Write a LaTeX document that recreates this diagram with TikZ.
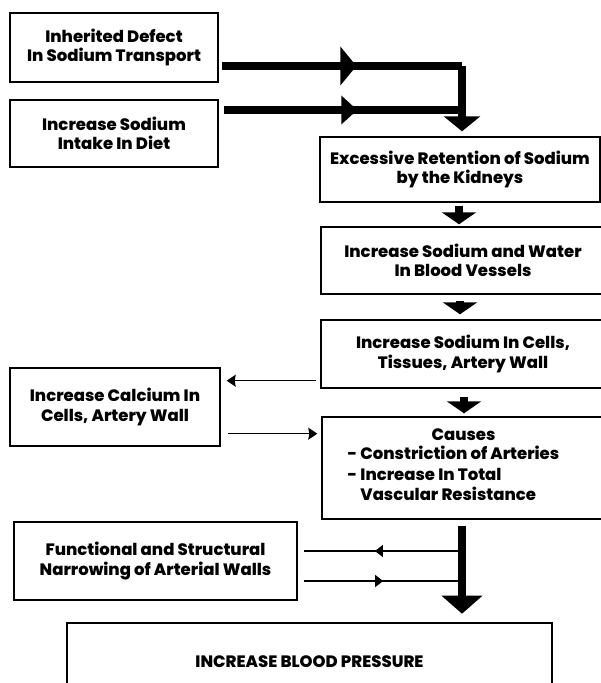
\documentclass[tikz,border=0pt]{standalone}
\usepackage{fontspec}
\setmainfont{Poppins}[BoldFont={Poppins ExtraBold}]
\usetikzlibrary{arrows.meta,positioning,decorations.markings}
\tikzset{
  box/.style={draw,line width=1.4pt,align=center,inner sep=0pt,
    font=\bfseries\fontsize{16.5}{19.5}\selectfont},
  thickline/.style={line width=8pt},
  thinline/.style={line width=1.5pt},
  midhead/.style={postaction={decorate},decoration={markings,
    mark=at position #1 with {\arrow{Triangle[width=12pt,length=8pt]}}}},
  bighead/.style={postaction={decorate},decoration={markings,
    mark=at position #1 with {\arrow{Triangle[width=38pt,length=16pt]}}}},
}

\begin{document}
\begin{tikzpicture}[x=1pt,y=-1pt]
\useasboundingbox (0,0) rectangle (601,683);
\clip (0,0) rectangle (601,683);
% causes on the left
\node[box,minimum width=208pt,minimum height=69pt] (defect) at (114,47.5) {Inherited Defect\\In Sodium Transport};
\node[box,minimum width=208pt,minimum height=67pt] (intake) at (114,133.5) {Increase Sodium\\Intake In Diet};
% main chain
\node[box,minimum width=280pt,minimum height=65pt] (kidney) at (460,169.5) {Excessive Retention of Sodium\\by the Kidneys};
\node[box,minimum width=284pt,minimum height=67pt] (vessel) at (463,260.5) {Increase Sodium and Water\\In Blood Vessels};
\node[box,minimum width=284pt,minimum height=68pt] (cells) at (463,354) {Increase Sodium In Cells,\\Tissues, Artery Wall};
\node[box,minimum width=210pt,minimum height=78pt] (calcium) at (115,407) {Increase Calcium In\\Cells, Artery Wall};
\node[box,minimum width=283pt,minimum height=102pt] (causes) at (463.5,468) {Causes\\[3pt]
  \def\arraystretch{1.07}\begin{tabular}{@{}l@{}}- Constriction of Arteries\\- Increase In Total\\\phantom{- }Vascular Resistance\end{tabular}\hspace*{20pt}};
\node[box,minimum width=283pt,minimum height=78pt] (narrow) at (155.5,561) {Functional and Structural\\Narrowing of Arterial Walls};
\node[box,line width=2.6pt,minimum width=485pt,minimum height=77pt] (pressure) at (309.5,661.5) {INCREASE BLOOD PRESSURE};

% thick connectors at the top
\coordinate (s1) at (222,66);
\coordinate (s2) at (224,110);
\coordinate (j1) at (462,66);
\coordinate (j2) at (462,110);
\draw[thickline,bighead=0.56] (s1) -- (j1);
\draw[thickline,-{Triangle[width=36pt,length=15pt]},shorten >=5pt] (j1) -- (j1 |- kidney.north);
\draw[thickline,postaction={decorate},decoration={markings,
  mark=at position 0.56 with {\arrow{Triangle[width=28pt,length=16pt]}}}] (s2) -- (j2);

% down the chain
\draw[thickline,-{Triangle[width=34pt,length=12pt]},shorten <=3pt,shorten >=2pt] ([xshift=-1pt]kidney.south) -- ([xshift=-1pt]kidney.south |- vessel.north);
\draw[thickline,-{Triangle[width=34pt,length=12pt]},shorten <=6pt,shorten >=5pt] ([xshift=-3pt]vessel.south) -- ([xshift=-3pt]vessel.south |- cells.north);
\draw[thickline,-{Triangle[width=34pt,length=12pt]},shorten <=8pt,shorten >=3pt] ([xshift=1pt]cells.south) -- ([xshift=1pt]cells.south |- causes.north);

% calcium loop
\draw[thinline,-{Stealth[width=12pt,length=9pt,inset=1pt]},shorten <=4pt,shorten >=6pt] ([yshift=8pt]cells.south west) -- ([yshift=8pt]cells.south west -| calcium.east);
\coordinate (c6) at ([xshift=7pt,yshift=13pt]calcium.south east);
\draw[thinline,-{Stealth[width=12pt,length=9pt,inset=1pt]},shorten >=4pt] (c6) -- (c6 -| causes.west);

% to blood pressure
\draw[thickline,-{Triangle[width=40pt,length=18pt]},shorten <=6pt,shorten >=8pt] ([xshift=-1.5pt]causes.south) -- ([xshift=-1.5pt]causes.south |- pressure.north);
\coordinate (n1) at (462,551);
\coordinate (n2) at (462,581);
\draw[thinline,midhead=0.53,shorten >=6pt] (n1) -- (n1 -| narrow.east);
\draw[thinline,midhead=0.52,shorten <=6pt] (n2 -| narrow.east) -- (n2);
\end{tikzpicture}
\end{document}
